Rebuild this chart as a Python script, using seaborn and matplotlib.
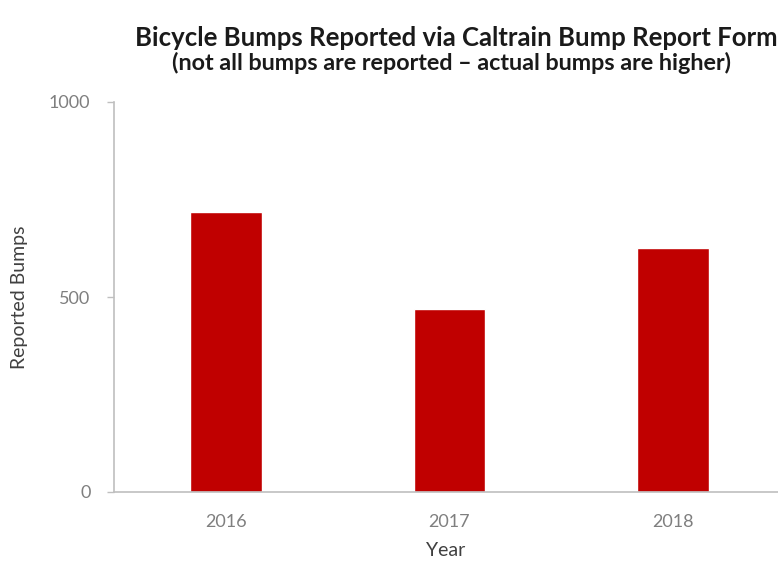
import matplotlib
matplotlib.use("Agg")
import matplotlib.pyplot as plt
import seaborn as sns
import pandas as pd

years = ["2016", "2017", "2018"]
bumps = [719, 468, 625]
y_ticks = [0, 500, 1000]

title = "Bicycle Bumps Reported via Caltrain Bump Report Form"
subtitle = "(not all bumps are reported \u2013 actual bumps are higher)"

sns.set_theme(style="white")
plt.rcParams["font.family"] = ["Lato", "DejaVu Sans"]

df = pd.DataFrame({"Year": years, "Reported Bumps": bumps})

fig = plt.figure(figsize=(7.78, 5.62), dpi=100)
ax = fig.add_axes([114 / 778, 1 - 492 / 562, 1 - 114 / 778, (492 - 102) / 562])

sns.barplot(data=df, x="Year", y="Reported Bumps", color="#C00000",
            saturation=1, width=0.32, ax=ax)

ax.set_xlim(-0.5, 2.47)
ax.set_ylim(0, 1000)
ax.set_yticks(y_ticks)
ax.set_yticklabels([str(v) for v in y_ticks])

for s in ["top", "right"]:
    ax.spines[s].set_visible(False)
for s in ["left", "bottom"]:
    ax.spines[s].set_color("#BFBFBF")
    ax.spines[s].set_linewidth(1.2)

ax.tick_params(axis="y", which="both", left=True, length=5, width=1,
               color="#BFBFBF", labelsize=13, labelcolor="#7F7F7F", pad=12)
ax.tick_params(axis="x", bottom=False, labelsize=13, labelcolor="#7F7F7F", pad=10)

ax.set_xlabel("Year", fontsize=14, color="#404040")
ax.set_ylabel("Reported Bumps", fontsize=14, color="#404040")
ax.yaxis.set_label_coords((20 - 114) / 664, 0.5)
ax.xaxis.set_label_coords(0.5, -(551 - 492) / 390)
ax.yaxis.label.set_va("center")
ax.xaxis.label.set_va("center")

fig.text(456 / 778, 1 - 38 / 562, title, ha="center", va="center",
         fontsize=18.5, fontweight="bold", color="#1a1a1a")
fig.text(452 / 778, 1 - 63 / 562, subtitle, ha="center", va="center",
         fontsize=16.8, fontweight="bold", color="#1a1a1a")

fig.savefig("out.png", dpi=100, facecolor="white")
